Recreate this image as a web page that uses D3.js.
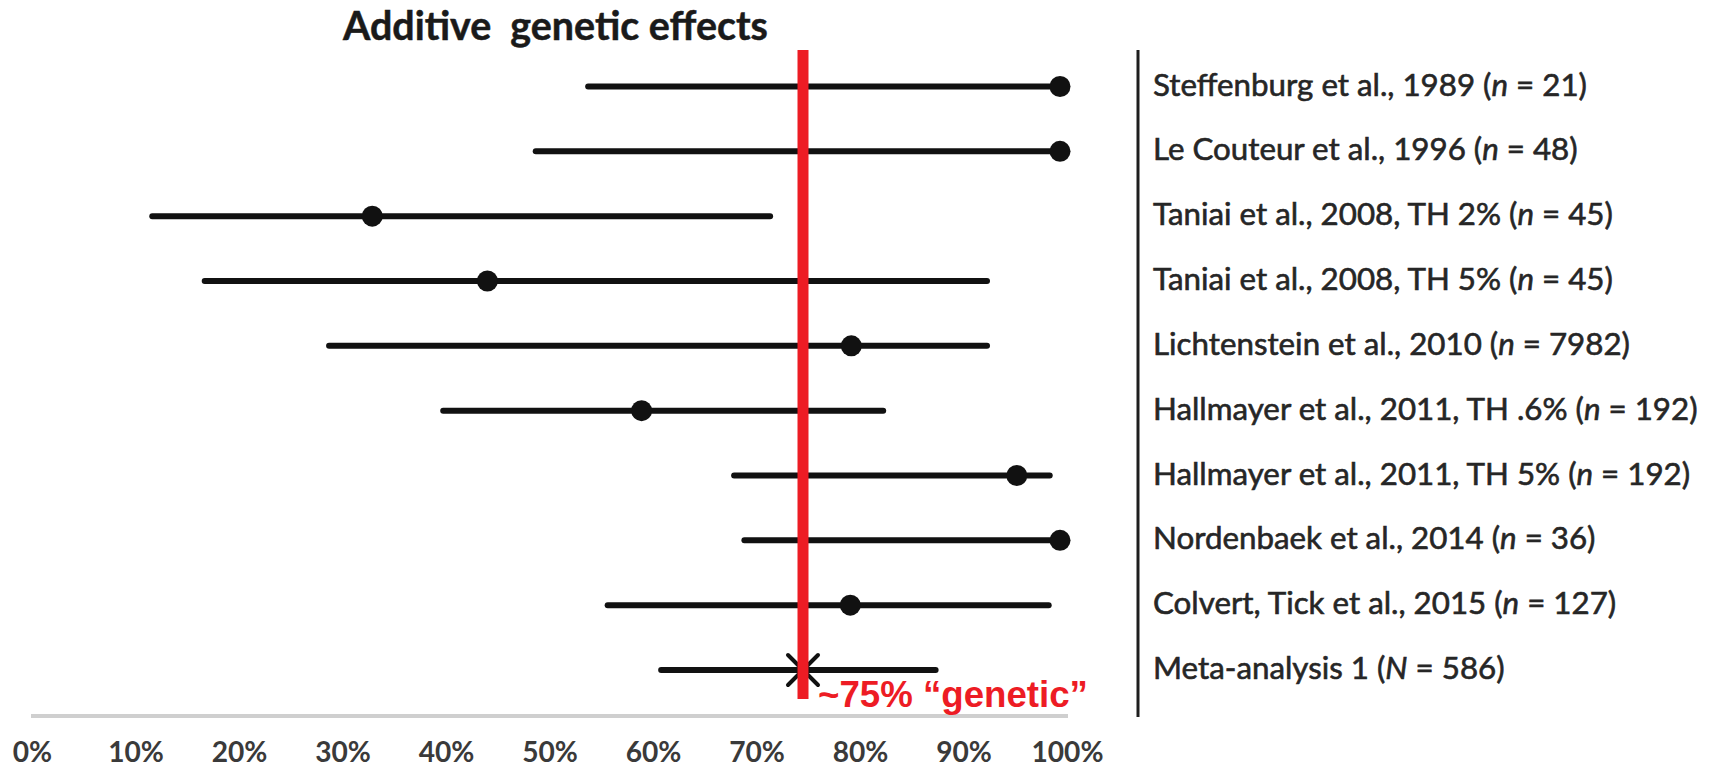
<!DOCTYPE html>
<html>
<head>
<meta charset="utf-8">
<script src="https://cdn.jsdelivr.net/npm/d3@7/dist/d3.min.js"></script>
<style>
  html, body { margin: 0; padding: 0; background: #ffffff; }
  svg { display: block; }
  .title { white-space: pre; }
</style>
</head>
<body>
<svg id="chart" width="1709" height="767"></svg>
<script>
// Twin-study estimates of additive genetic effects (heritability, %)
const studyNames = [
  "Steffenburg et al., 1989",
  "Le Couteur  et al., 1996",
  "Taniai et al., 2008, TH 2%",
  "Taniai et al., 2008, TH 5%",
  "Lichtenstein  et al., 2010",
  "Hallmayer et al., 2011, TH .6%",
  "Hallmayer et al., 2011, TH 5%",
  "Nordenbaek et al., 2014",
  "Colvert, Tick et al., 2015",
  "Meta-analysis 1"
];
const sampleSymbols = ["n", "n", "n", "n", "n", "n", "n", "n", "n", "N"];
const sampleSizes = [21, 48, 45, 45, 7982, 192, 192, 36, 127, 586];

// point estimate and confidence interval, in %
const estimates = [100, 100, 33.1, 44.3, 79.7, 59.3, 95.8, 100, 79.6, 75];
const lowerBounds = [54.1, 49.0, 11.7, 16.8, 28.9, 40.0, 68.3, 69.3, 56.0, 61.2];
const upperBounds = [100, 100, 71.8, 92.9, 92.9, 82.8, 99.0, 100, 98.9, 87.9];

const tickValues = [0, 10, 20, 30, 40, 50, 60, 70, 80, 90, 100];
const consensusValue = 75;
const consensusLabel = "~75% \u201Cgenetic\u201D";
const chartTitle = "Additive  genetic effects";

const svg = d3.select("#chart");

const x = d3.scaleLinear().domain([0, 100]).range([32, 1060]);
const y = d3.scalePoint().domain(d3.range(studyNames.length)).range([86.5, 670]);

const rows = studyNames.map((name, i) => ({
  i, name, sym: sampleSymbols[i], size: sampleSizes[i],
  est: estimates[i], lo: lowerBounds[i], hi: upperBounds[i],
  meta: sampleSymbols[i] === "N"
}));

// fit a text element's font size so its rendered width equals target
function fitWidth(sel, target) {
  const node = sel.node();
  const fs = parseFloat(sel.attr("font-size"));
  const w = node.getComputedTextLength();
  sel.attr("font-size", (fs * target / w).toFixed(2));
}

// title
const title = svg.append("text")
  .attr("class", "title")
  .attr("x", 343).attr("y", 40)
  .attr("font-family", "Lato, 'Open Sans', sans-serif")
  .attr("font-weight", "bold")
  .attr("font-size", 30)
  .attr("fill", "#1a1a1a")
  .attr("stroke", "#1a1a1a")
  .attr("stroke-width", 0.5)
  .text(chartTitle);
fitWidth(title, 425);

// bottom axis
const axis = d3.axisBottom(x)
  .tickValues(tickValues)
  .tickFormat(d => d + "%")
  .tickSize(0)
  .tickSizeOuter(0)
  .tickPadding(26);

const axisG = svg.append("g")
  .attr("transform", "translate(0,716)")
  .call(axis);
axisG.select(".domain")
  .attr("stroke", "#cfcfcf")
  .attr("stroke-width", 4)
  .attr("d", `M${x.range()[0] - 1},0H${x.range()[1] + 8}`);
axisG.selectAll(".tick text")
  .attr("font-family", "Lato, 'Open Sans', sans-serif")
  .attr("font-weight", "bold")
  .attr("font-size", 25)
  .attr("fill", "#3a3a3a")
  .attr("dx", d => d * 0.07);
// common size for all tick labels, based on the widest one
{
  const last = axisG.selectAll(".tick text").filter(d => d === 100);
  const w = last.node().getComputedTextLength();
  const fs = 25 * 72 / w;
  axisG.selectAll(".tick text").attr("font-size", fs.toFixed(2));
}

// separator between plot and study labels
svg.append("line")
  .attr("x1", 1138).attr("x2", 1138)
  .attr("y1", 50).attr("y2", 717)
  .attr("stroke", "#1e1e1e").attr("stroke-width", 3);

// confidence intervals
svg.append("g").selectAll("line")
  .data(rows)
  .join("line")
  .attr("x1", d => x(d.lo))
  .attr("x2", d => x(d.hi))
  .attr("y1", d => y(d.i))
  .attr("y2", d => y(d.i))
  .attr("stroke", "#111")
  .attr("stroke-width", 6)
  .attr("stroke-linecap", "round");

// point estimates
svg.append("g").selectAll("circle")
  .data(rows.filter(d => !d.meta))
  .join("circle")
  .attr("cx", d => x(d.est))
  .attr("cy", d => y(d.i))
  .attr("r", 10.5)
  .attr("fill", "#111");

// pooled estimate drawn as a cross
const crossHalf = 15;
const metaG = svg.append("g").selectAll("g")
  .data(rows.filter(d => d.meta))
  .join("g")
  .attr("transform", d => `translate(${x(d.est)},${y(d.i)})`);
metaG.append("line")
  .attr("x1", -crossHalf).attr("y1", -crossHalf)
  .attr("x2", crossHalf).attr("y2", crossHalf)
  .attr("stroke", "#111").attr("stroke-width", 4).attr("stroke-linecap", "round");
metaG.append("line")
  .attr("x1", -crossHalf).attr("y1", crossHalf)
  .attr("x2", crossHalf).attr("y2", -crossHalf)
  .attr("stroke", "#111").attr("stroke-width", 4).attr("stroke-linecap", "round");

// consensus line
svg.append("rect")
  .attr("x", x(consensusValue) - 5.5)
  .attr("y", 50)
  .attr("width", 11)
  .attr("height", 649)
  .attr("fill", "#ed1c24");

const consText = svg.append("text")
  .attr("x", x(consensusValue) + 15)
  .attr("y", 707)
  .attr("font-family", "'Liberation Sans Narrow', 'Arial Narrow', 'Liberation Sans', Arial, sans-serif")
  .attr("font-weight", "bold")
  .attr("font-size", 34)
  .attr("fill", "#ed1c24")
  .text(consensusLabel);
fitWidth(consText, 270);

// study labels
const labels = svg.append("g").selectAll("text")
  .data(rows)
  .join("text")
  .attr("class", "study")
  .attr("x", 1153)
  .attr("y", d => y(d.i) + 9)
  .attr("font-family", "Lato, 'Open Sans', sans-serif")
  .attr("font-size", 25)
  .attr("fill", "#262626")
  .attr("stroke", "#262626")
  .attr("stroke-width", 0.6);
labels.append("tspan").attr("class", "lead").text(d => d.name + " (");
labels.append("tspan").attr("font-style", "italic").text(d => d.sym);
labels.append("tspan").text(d => " = " + d.size + ")");
{
  const first = labels.filter(d => d.i === 0);
  const w = first.node().getComputedTextLength();
  const fs = 25 * 434 / w;
  labels.attr("font-size", fs.toFixed(2));
}
</script>
</body>
</html>
